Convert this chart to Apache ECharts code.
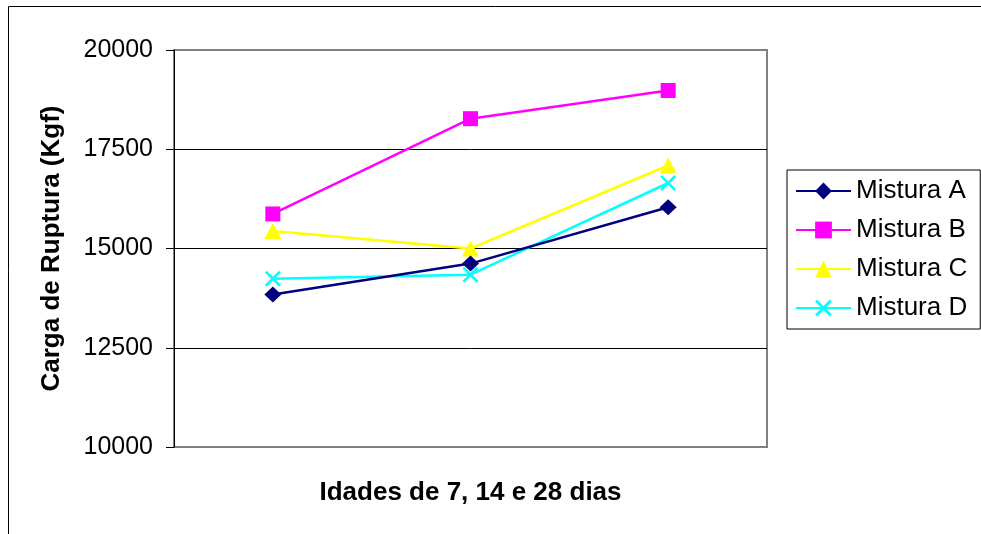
<!DOCTYPE html>
<html>
<head>
<meta charset="utf-8">
<script src="https://cdn.jsdelivr.net/npm/echarts@6/dist/echarts.min.js"></script>
<style>
html,body{margin:0;padding:0;background:#fff;}
#chart{width:981px;height:534px;}
</style>
</head>
<body>
<div id="chart"></div>
<script>
const categories = ['7 dias', '14 dias', '28 dias'];
const seriesNames = ['Mistura A', 'Mistura B', 'Mistura C', 'Mistura D'];
const misturaA = [13840, 14620, 16040];
const misturaB = [15870, 18270, 18980];
const misturaC = [15440, 15000, 17090];
const misturaD = [14240, 14340, 16650];
const yTicks = [10000, 12500, 15000, 17500, 20000];
const yTitle = 'Carga de Ruptura (Kgf)';
const xTitle = 'Idades de 7, 14 e 28 dias';

const FONT = '"Liberation Sans", Arial, Helvetica, sans-serif';
const crossPath = 'path://M0,1.6L1.6,0L7,5.4L12.4,0L14,1.6L8.6,7L14,12.4L12.4,14L7,8.6L1.6,14L0,12.4L5.4,7Z';

const styles = [
  {color: '#000080', symbol: 'diamond', size: [17, 16]},
  {color: '#FF00FF', symbol: 'rect', size: [15, 15]},
  {color: '#FFFF00', symbol: 'triangle', size: [17, 16]},
  {color: '#00FFFF', symbol: crossPath, size: [16, 16]}
];
const values = [misturaA, misturaB, misturaC, misturaD];

const chart = echarts.init(document.getElementById('chart'), null, {renderer: 'canvas'});
chart.setOption({
  backgroundColor: '#fff',
  animation: false,
  textStyle: {fontFamily: FONT},
  graphic: [{
    type: 'rect',
    shape: {x: 8.5, y: 6.5, width: 1000, height: 600},
    style: {fill: 'none', stroke: '#000', lineWidth: 1},
    silent: true, z: -1
  }],
  grid: {
    left: 174, top: 50, right: 214, bottom: 87,
    show: true, borderColor: '#808080', borderWidth: 2, backgroundColor: '#fff'
  },
  legend: {
    orient: 'vertical',
    left: 787, top: 170,
    width: 193,
    padding: [7, 13, 7, 8],
    borderColor: '#000', borderWidth: 1,
    backgroundColor: '#fff',
    itemWidth: 55, itemHeight: 21, itemGap: 11,
    data: seriesNames,
    textStyle: {fontFamily: FONT, fontSize: 26, color: '#000', lineHeight: 28}
  },
  xAxis: {
    type: 'category',
    data: categories,
    boundaryGap: true,
    name: xTitle,
    nameLocation: 'middle',
    nameGap: 33,
    nameTextStyle: {fontFamily: FONT, fontSize: 26, fontWeight: 'bold', color: '#000'},
    axisLine: {show: false},
    axisTick: {show: false},
    axisLabel: {show: false},
    splitLine: {show: false}
  },
  yAxis: {
    type: 'value',
    min: yTicks[0], max: yTicks[yTicks.length - 1], interval: yTicks[1] - yTicks[0],
    name: yTitle,
    nameLocation: 'middle',
    nameGap: 109,
    nameTextStyle: {fontFamily: FONT, fontSize: 26, fontWeight: 'bold', color: '#000'},
    axisLine: {show: true, lineStyle: {color: '#000', width: 1}},
    axisTick: {show: true, inside: false, length: 8, lineStyle: {color: '#000', width: 1}},
    axisLabel: {margin: 21, fontFamily: FONT, fontSize: 25, color: '#000', formatter: v => String(v)},
    splitLine: {show: true, showMinLine: false, showMaxLine: false, lineStyle: {color: '#000', width: 1}}
  },
  series: values.map((v, i) => ({
    name: seriesNames[i],
    type: 'line',
    data: v,
    symbol: styles[i].symbol,
    symbolSize: styles[i].size,
    showAllSymbol: true,
    lineStyle: {color: styles[i].color, width: 2.5},
    itemStyle: {color: styles[i].color},
    emphasis: {disabled: true},
    z: 2 + (3 - i)
  }))
});
</script>
</body>
</html>
